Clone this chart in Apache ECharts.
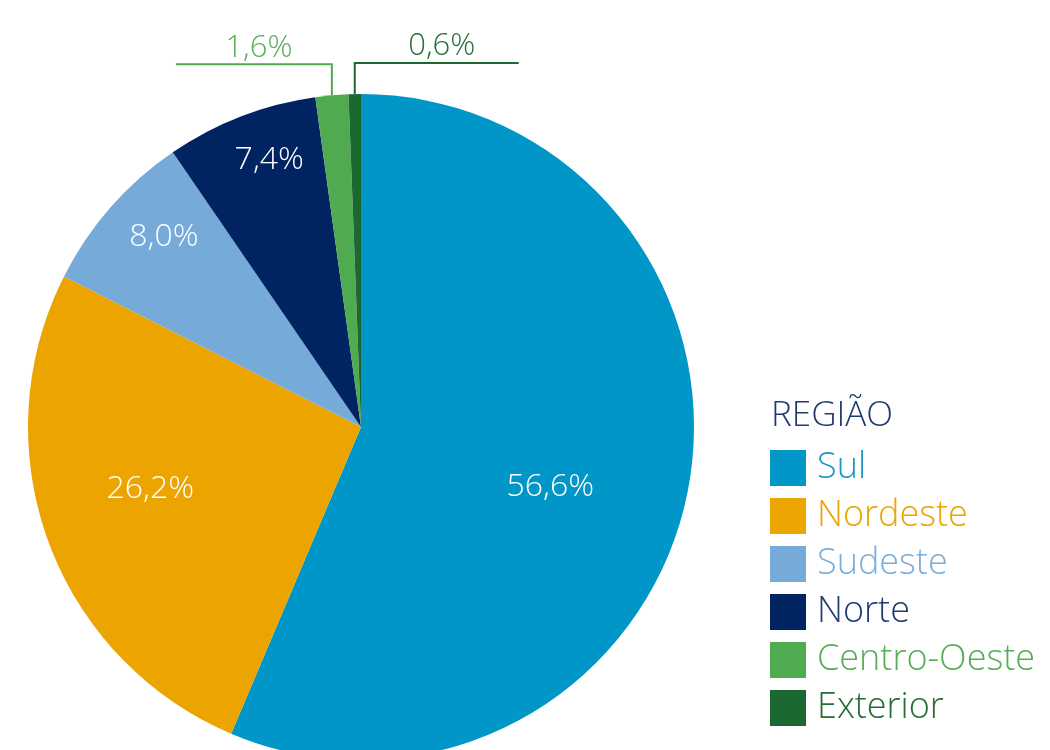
<!DOCTYPE html>
<html>
<head>
<meta charset="utf-8">
<script src="https://cdn.jsdelivr.net/npm/echarts@6/dist/echarts.min.js"></script>
<style>
  html, body { margin: 0; padding: 0; background: #fff; }
  #chart { width: 1050px; height: 750px; }
</style>
</head>
<body>
<div id="chart"></div>
<script>
// dados por região
var regions = ['Sul', 'Nordeste', 'Sudeste', 'Norte', 'Centro-Oeste', 'Exterior']
var shares = [56.6, 26.2, 8.0, 7.4, 1.6, 0.6]
var colors = ['#0096c8', '#eca400', '#76aad9', '#002461', '#4faa50', '#1b6930']
var textColors = ['#1a98c8', '#eca400', '#7aaedb', '#1f3b73', '#58ad58', '#246d36']

// which label sits where (1 = inner near, 2 = inner far, 3 = outside)
var labelKind = [1, 1, 2, 2, 3, 3]
// small nudges of the inner labels, px
var nudge = { 0: [-16, 18], 1: [-14, -10], 2: [15, -4], 3: [10, -4] }
// outside label leader: vertical leg and horizontal run (negative = to the left)
var legUp = 31
var run = { 4: -156, 5: 164 }

var FONT = '"Open Sans", sans-serif'
var R = 333
var CENTER = [361, 427]

function fmt(v) {
  return v.toFixed(1).replace('.', ',') + '%'
}

function pieData(kind) {
  return regions.map(function (name, i) {
    return {
      name: name,
      value: shares[i],
      label: { show: labelKind[i] === kind }
    }
  })
}

function nudgeLabel(params) {
  var d = nudge[params.dataIndex]
  if (!d) return
  return { dx: d[0], dy: d[1] }
}

var innerLabel = {
  position: 'inside',
  color: '#fff',
  fontFamily: FONT,
  fontWeight: 300,
  fontSize: 32,
  formatter: function (p) { return fmt(p.value) }
}

var chart = echarts.init(document.getElementById('chart'), null, { renderer: 'canvas' })

chart.setOption({
  animation: false,
  color: colors,
  title: {
    text: 'REGIÃO',
    left: 771,
    top: 399,
    padding: 0,
    textStyle: {
      fontFamily: FONT,
      fontWeight: 300,
      fontSize: 35,
      color: '#1f3a70'
    }
  },
  legend: {
    orient: 'vertical',
    left: 770,
    top: 450,
    padding: 0,
    itemWidth: 36,
    itemHeight: 36,
    itemGap: 12,
    icon: 'rect',
    selectedMode: false,
    data: regions.map(function (name, i) {
      return { name: name, textStyle: { color: textColors[i] } }
    }),
    textStyle: {
      fontFamily: FONT,
      fontWeight: 300,
      fontSize: 36,
      lineHeight: 36,
      padding: [0, 0, 0, 6]
    }
  },
  series: [
    {
      type: 'pie',
      center: CENTER,
      radius: R,
      startAngle: 90,
      clockwise: true,
      avoidLabelOverlap: false,
      silent: true,
      itemStyle: { borderWidth: 0 },
      data: regions.map(function (name, i) {
        return {
          name: name,
          value: shares[i],
          label: { show: labelKind[i] === 3, color: textColors[i] },
          labelLine: { show: labelKind[i] === 3, lineStyle: { color: colors[i] } }
        }
      }),
      label: {
        position: 'outside',
        fontFamily: FONT,
        fontWeight: 300,
        fontSize: 31,
        formatter: function (p) { return fmt(p.value) }
      },
      labelLine: { length: legUp, length2: 150, lineStyle: { width: 2 } },
      labelLayout: function (params) {
        var pts = params.labelLinePoints
        var i = params.dataIndex
        if (!pts || run[i] === undefined) return
        var p0 = pts[0]
        var p1 = [p0[0], p0[1] - legUp]
        var p2 = [p1[0] + run[i], p1[1]]
        return {
          x: (p1[0] + p2[0]) / 2 + 5,
          y: p1[1] - 1,
          align: 'center',
          verticalAlign: 'bottom',
          labelLinePoints: [p0, p1, p2]
        }
      }
    },
    {
      // inner labels, closer to centre
      type: 'pie',
      center: CENTER,
      radius: [80, R],
      startAngle: 90,
      silent: true,
      itemStyle: { color: 'rgba(0,0,0,0)' },
      label: innerLabel,
      labelLine: { show: false },
      labelLayout: nudgeLabel,
      data: pieData(1)
    },
    {
      // inner labels, nearer the rim
      type: 'pie',
      center: CENTER,
      radius: [225, R],
      startAngle: 90,
      silent: true,
      itemStyle: { color: 'rgba(0,0,0,0)' },
      label: innerLabel,
      labelLine: { show: false },
      labelLayout: nudgeLabel,
      data: pieData(2)
    }
  ]
})
</script>
</body>
</html>
